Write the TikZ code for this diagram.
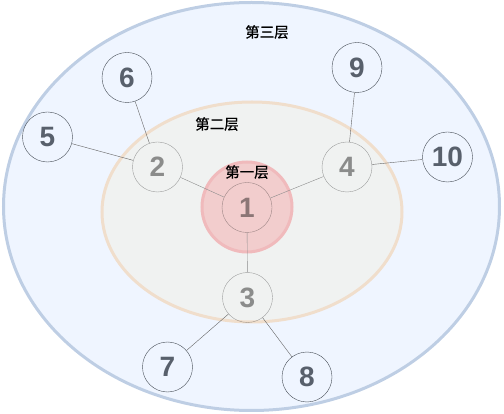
\documentclass[tikz,border=0pt]{standalone}
\usepackage{fontspec}
\setmainfont{Liberation Sans}
\newfontfamily\cjk[FakeBold=0.7]{Noto Sans CJK SC}
\definecolor{outerfill}{RGB}{239,245,255}
\definecolor{outerline}{RGB}{190,206,228}
\definecolor{midfill}{RGB}{240,242,241}
\definecolor{midline}{RGB}{240,222,204}
\definecolor{corefill}{RGB}{242,205,205}
\definecolor{coreline}{RGB}{240,186,188}
\definecolor{numdark}{RGB}{88,96,108}

\begin{document}
\begin{tikzpicture}[x=1pt,y=-1pt,
    inner/.style={circle,draw=black,draw opacity=0.35,text=black,text opacity=0.42,
      minimum size=50pt,inner sep=0pt,font=\fontsize{28}{30}\selectfont\bfseries},
    leaf/.style={circle,draw=numdark!80!black,text=numdark,thin,
      minimum size=50pt,inner sep=0pt,font=\fontsize{28}{30}\selectfont\bfseries},
    layer/.style={font=\cjk\fontsize{14.5}{16}\selectfont},
    innerlink/.style={draw=black!45,thin},
    leaflink/.style={draw=black!60,thin}]
  \useasboundingbox (0,0) rectangle (504,414);
  % the three layers
  \draw[fill=outerfill,draw=outerline,line width=3pt] (251.5,206.5) ellipse (248 and 204);
  \draw[fill=midfill,draw=midline,line width=3pt] (252,212) ellipse (150 and 110);
  \draw[fill=corefill,draw=coreline,line width=3pt] (247,207) circle (45);
  \node[layer] (l3) at (267,32) {第三层};
  \node[layer] (l2) at (217,124) {第二层};
  \node[layer] (l1) at (247,172) {第一层};
  % inner nodes
  \node[inner] (n1) at (247,207.5) {1};
  \node[inner] (n2) at (157.5,167) {2};
  \node[inner] (n3) at (247.5,297.5) {3};
  \node[inner] (n4) at (347,167) {4};
  % outer nodes
  \node[leaf] (n5) at (47.5,137) {5};
  \node[leaf] (n6) at (127,77.5) {6};
  \node[leaf] (n7) at (167.5,367) {7};
  \node[leaf] (n8) at (307,377) {8};
  \node[leaf] (n9) at (357,67.5) {9};
  \node[leaf] (n10) at (447.5,157) {10};
  % links
  \foreach \a/\b in {n1/n2,n1/n3,n1/n4}
    \draw[innerlink] (\a) -- (\b);
  \foreach \a/\b in {n2/n5,n2/n6,n3/n7,n3/n8,n4/n9,n4/n10}
    \draw[leaflink] (\a) -- (\b);
\end{tikzpicture}
\end{document}
